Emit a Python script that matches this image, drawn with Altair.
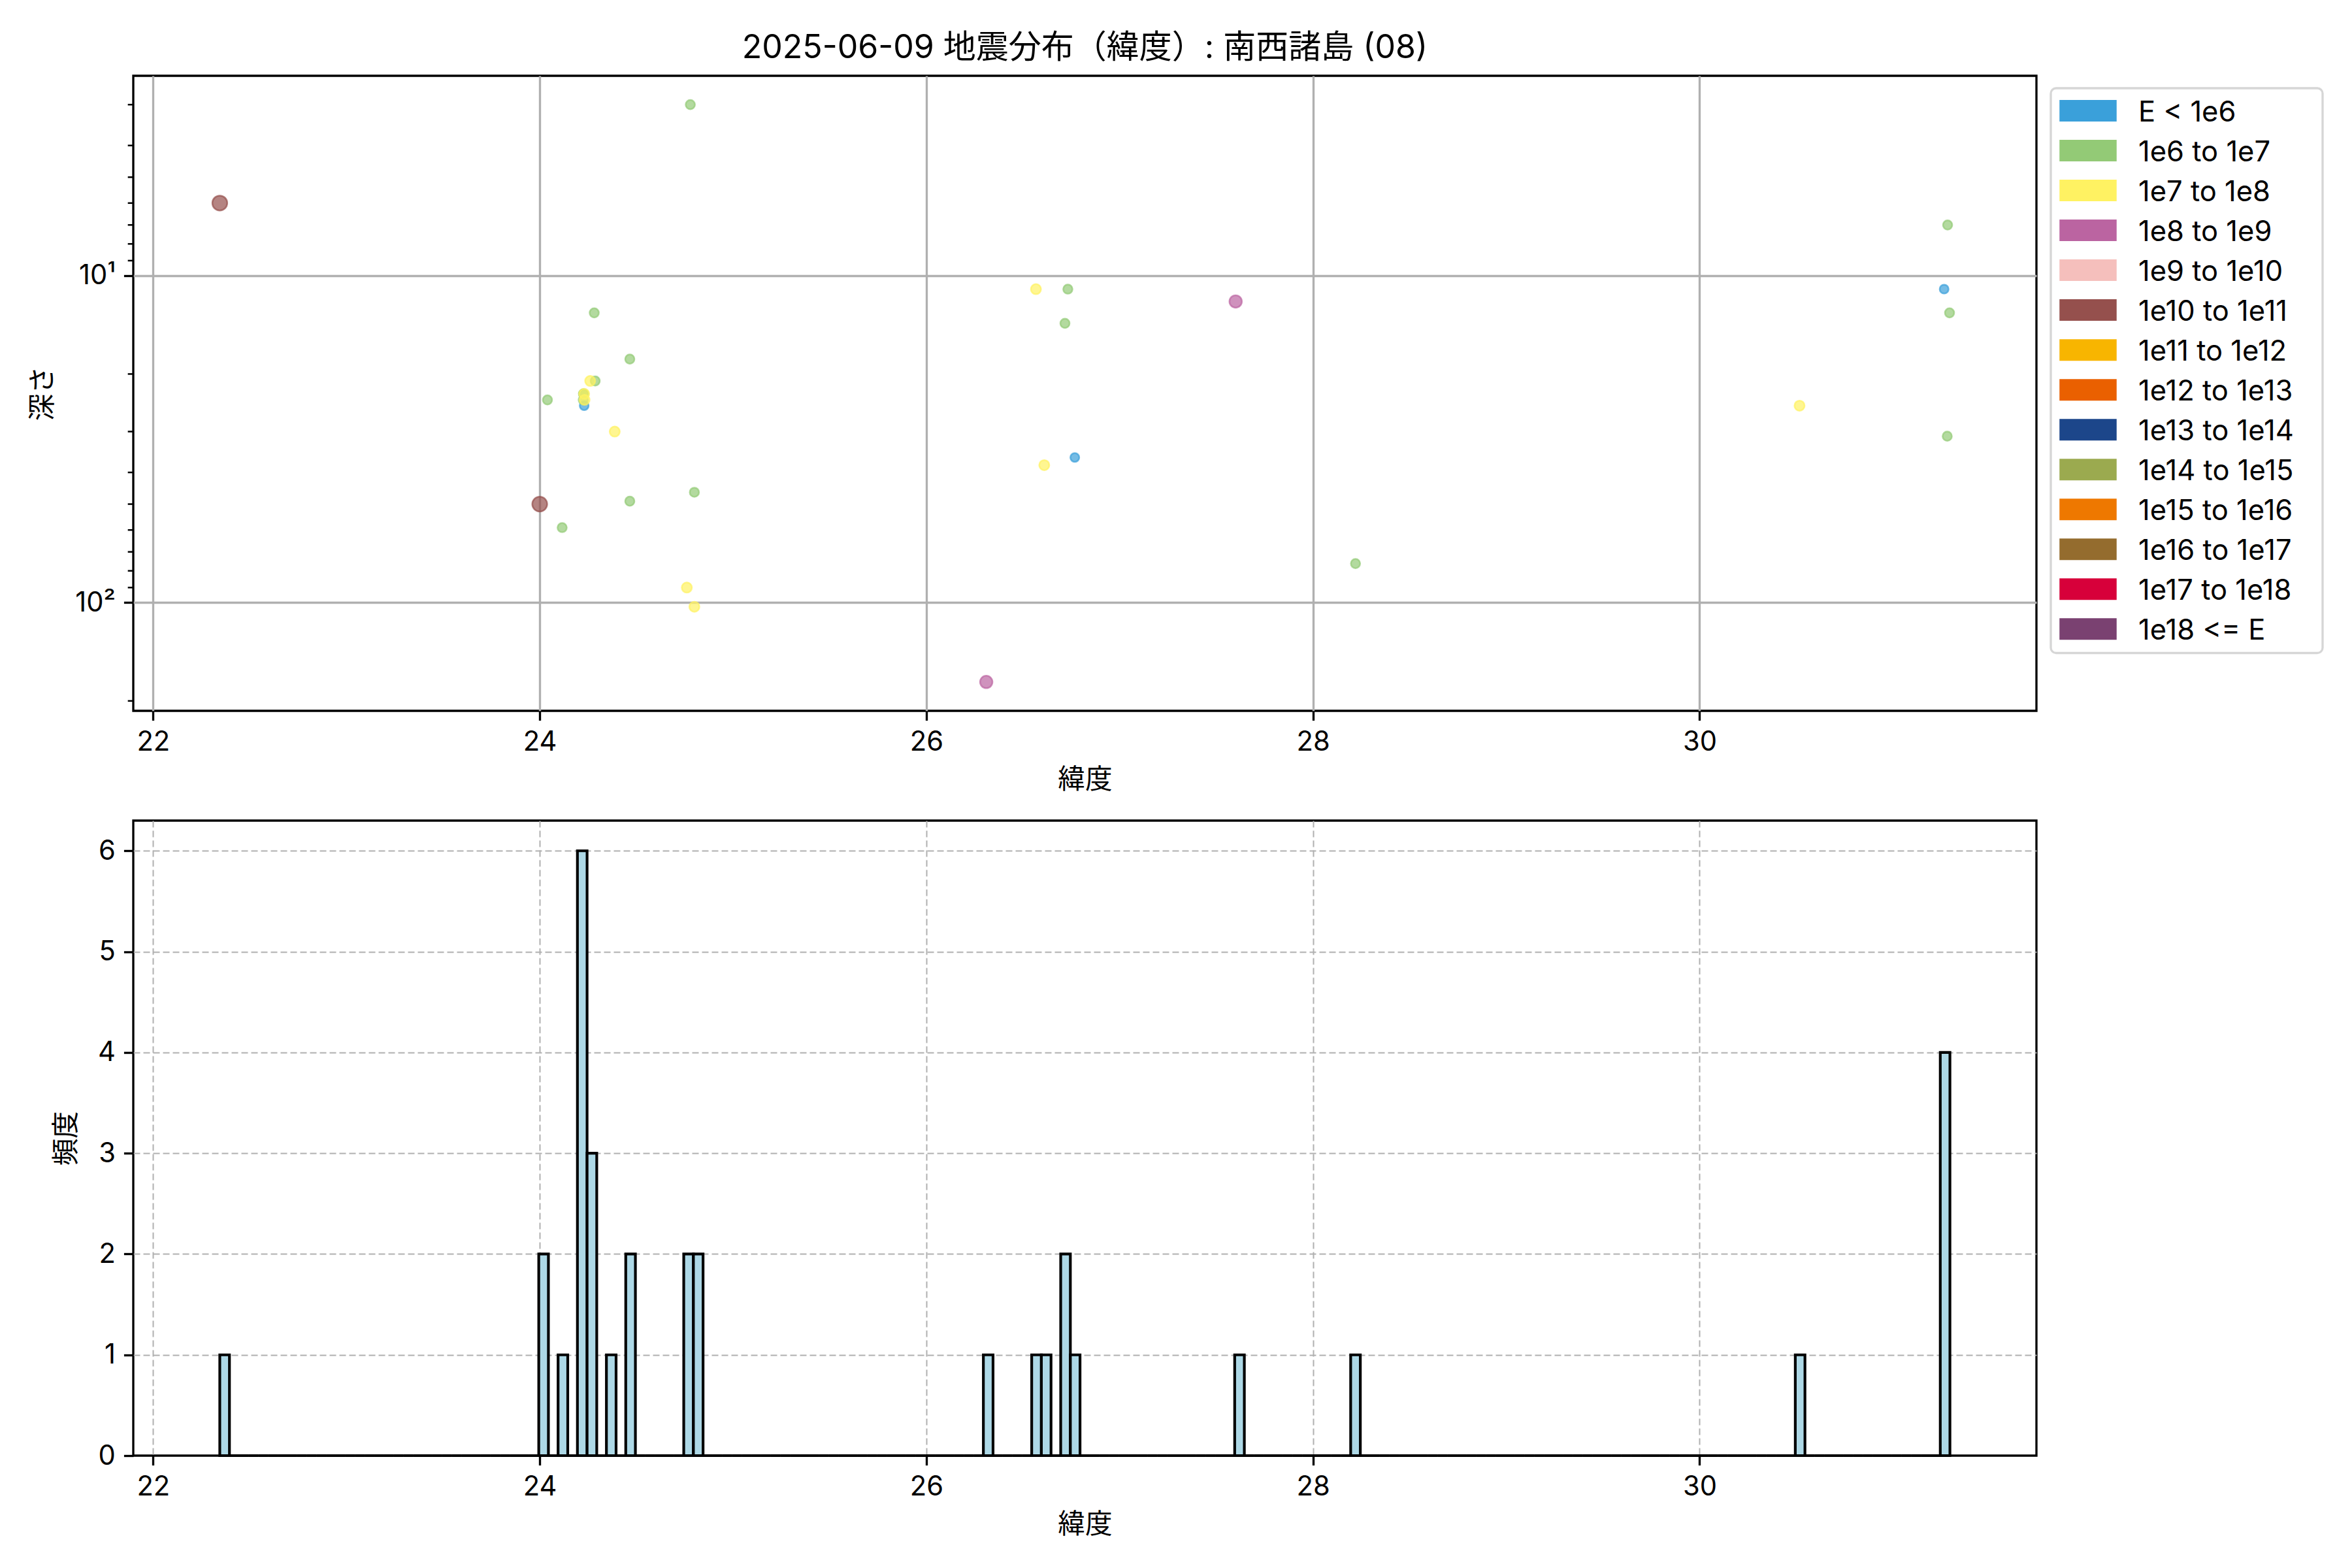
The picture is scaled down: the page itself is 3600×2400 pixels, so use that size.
import altair as alt
import numpy as np
import pandas as pd

FONT = "Inter, Noto Sans CJK JP"

title_text = "2025-06-09 地震分布（緯度）: 南西諸島 (08)"
x_title = "緯度"
y_top_title = "深さ"
y_bottom_title = "頻度"

energy_classes = [
    "E < 1e6", "1e6 to 1e7", "1e7 to 1e8", "1e8 to 1e9", "1e9 to 1e10",
    "1e10 to 1e11", "1e11 to 1e12", "1e12 to 1e13", "1e13 to 1e14",
    "1e14 to 1e15", "1e15 to 1e16", "1e16 to 1e17", "1e17 to 1e18", "1e18 <= E",
]
class_colors = [
    "#3aa0da", "#93ca76", "#fff262", "#bb64a1", "#f5bfbc", "#95504d", "#f8b500",
    "#ea6000", "#1c468a", "#9baa4f", "#ee7800", "#946c2e", "#d7003a", "#7a4171",
]

# earthquakes: latitude, depth (km), energy class index
lat = [22.345, 24.779, 24.282, 24.466, 24.261, 24.287, 24.230, 24.225, 24.230, 24.040,
       24.388, 24.000, 24.466, 24.800, 24.116, 24.761, 24.800, 26.567, 26.732, 26.717,
       27.600, 26.610, 26.768, 28.220, 26.310, 31.283, 31.265, 31.293, 30.517, 31.281,
       24.228, 24.232, 24.226]
depth = [6, 3, 13, 18, 21, 21, 23, 24, 25, 24,
         30, 50, 49, 46, 59, 90, 103, 11, 11, 14,
         12, 38, 36, 76, 175, 7, 11, 13, 25, 31,
         23, 24, 23]
energy_idx = [5, 1, 1, 1, 2, 1, 2, 1, 0, 1,
              2, 5, 1, 1, 1, 2, 2, 2, 1, 1,
              3, 2, 0, 1, 3, 1, 0, 1, 2, 1,
              1, 2, 1]

x_ticks = [22, 24, 26, 28, 30]
depth_major = [10, 100]
depth_minor = [3, 4, 5, 6, 7, 8, 9, 20, 30, 40, 50, 60, 70, 80, 90, 200]
count_ticks = [0, 1, 2, 3, 4, 5, 6]
hist_step = 0.05

# style: marker area per class (px^2)
class_sizes = [185, 200, 240, 360, 430, 520, 610, 700, 790, 880, 970, 1060, 1150, 1240]

W, H = 2913, 972
PT = 300 / 72.0

df = pd.DataFrame({
    "lat": lat, "depth": depth,
    "cls": [energy_classes[i] for i in energy_idx], "ci": energy_idx,
}).sort_values("ci", kind="stable")
df["cls_stroke"] = df["cls"]
df["cls_size"] = df["cls"]

lo, hi = min(lat), max(lat)
nb = int(np.ceil((hi - lo) / hist_step - 1e-9))
edges = lo + hist_step * np.arange(nb + 1)
counts, _ = np.histogram(lat, bins=edges)
hist_df = pd.DataFrame({"bin_start": edges[:-1], "bin_end": edges[1:], "count": counts})

span = edges[-1] - lo
xdom = [lo - 0.05 * span, edges[-1] + 0.05 * span]
ld0, ld1 = np.log10(min(depth)), np.log10(max(depth))
ydom = [10 ** (ld0 - 0.05 * (ld1 - ld0)), 10 ** (ld1 + 0.05 * (ld1 - ld0))]
cdom = [0, max(counts) * 1.05]

xscale = alt.Scale(domain=xdom, nice=False, zero=False)
yscale = alt.Scale(type="log", domain=ydom, reverse=True, nice=False)
color_scale = alt.Scale(domain=energy_classes, range=class_colors)
legend_y = alt.Scale(type="point", domain=energy_classes, range=[53.5, 846.8], padding=0)

points = alt.Chart(df).mark_point(
    filled=True, fillOpacity=0.7, strokeOpacity=0.7, strokeWidth=2.5
).encode(
    x=alt.X("lat:Q", scale=xscale,
            axis=alt.Axis(values=x_ticks, format="d", title=x_title, titlePadding=16)),
    y=alt.Y("depth:Q", scale=yscale,
            axis=alt.Axis(values=depth_major, title=y_top_title, titlePadding=27,
                          labelExpr="datum.value == 10 ? '10¹' : '10²'")),
    color=alt.Color("cls:N", scale=color_scale, legend=None),
    stroke=alt.Stroke("cls_stroke:N", scale=color_scale, legend=None),
    size=alt.Size("cls_size:N",
                  scale=alt.Scale(type="ordinal", domain=energy_classes, range=class_sizes),
                  legend=None),
)

minor = alt.Chart(pd.DataFrame({"v": depth_minor})).mark_rule(
    color="black", strokeWidth=0.6 * PT
).encode(
    y=alt.Y("v:Q", scale=yscale, axis=None),
    x=alt.value(-2 * PT), x2=alt.value(0),
)

legend_df = pd.DataFrame({"cls": energy_classes})

legend_frame = alt.Chart(pd.DataFrame({"k": [0]})).mark_rect(
    fill="white", fillOpacity=0.8, stroke="#d6d6d6", strokeWidth=0.8 * PT, cornerRadius=8
).encode(
    x=alt.value(2935), x2=alt.value(3351), y=alt.value(19), y2=alt.value(883.5),
)

legend_swatch = alt.Chart(legend_df).mark_point(
    shape="M-1,-0.377H1V0.377H-1Z", size=87.5 ** 2, filled=True, opacity=1, strokeWidth=0
).encode(
    x=alt.value(2992),
    y=alt.Y("cls:N", scale=legend_y, axis=None, sort=energy_classes),
    color=alt.Color("cls:N", scale=color_scale, legend=None),
)

legend_text = alt.Chart(legend_df).mark_text(
    align="left", baseline="alphabetic", dy=16, font=FONT, fontSize=43.5, color="black"
).encode(
    x=alt.value(3069),
    y=alt.Y("cls:N", scale=legend_y, axis=None, sort=energy_classes),
    text="cls:N",
)

top = alt.layer(points, minor, legend_frame, legend_swatch, legend_text).resolve_scale(
    y="independent"
).properties(
    width=W, height=H,
    title=alt.TitleParams(title_text, font=FONT, fontSize=50, fontWeight="normal",
                          color="black", anchor="middle", frame="group",
                          baseline="alphabetic", offset=-23),
)

hist = alt.Chart(hist_df).mark_rect(
    fill="#add8e6", stroke="black", strokeWidth=1.0 * PT
).encode(
    x=alt.X("bin_start:Q", scale=xscale,
            axis=alt.Axis(values=x_ticks, format="d", title=x_title, titlePadding=16,
                          gridDash=[10, 5], gridWidth=2)),
    x2="bin_end:Q",
    y=alt.Y("count:Q", scale=alt.Scale(domain=cdom, nice=False, zero=True),
            axis=alt.Axis(values=count_ticks, format="d", title=y_bottom_title,
                          titlePadding=26, gridDash=[10, 5], gridWidth=2,
                          gridOpacity={"condition": {"test": "datum.value === 0", "value": 0},
                                       "value": 1})),
    y2=alt.datum(0),
).properties(width=W, height=H)

chart = alt.vconcat(top, hist, spacing=168, bounds="flush").properties(
    padding={"left": 36, "top": 39, "right": 20, "bottom": 20}
).configure(font=FONT).configure_view(
    stroke="black", strokeWidth=0.8 * PT
).configure_axis(
    labelFont=FONT, labelFontSize=41.7, labelColor="black", labelPadding=13,
    labelFlush=False, labelOverlap=False,
    titleFont=FONT, titleFontSize=41.7, titleFontWeight="normal", titleColor="black",
    tickColor="black", tickWidth=0.8 * PT, tickSize=3.5 * PT,
    domain=False, gridColor="#b0b0b0", gridWidth=0.8 * PT, zindex=1,
)

chart.save("out.html", embed_options={"renderer": "svg", "actions": False})
